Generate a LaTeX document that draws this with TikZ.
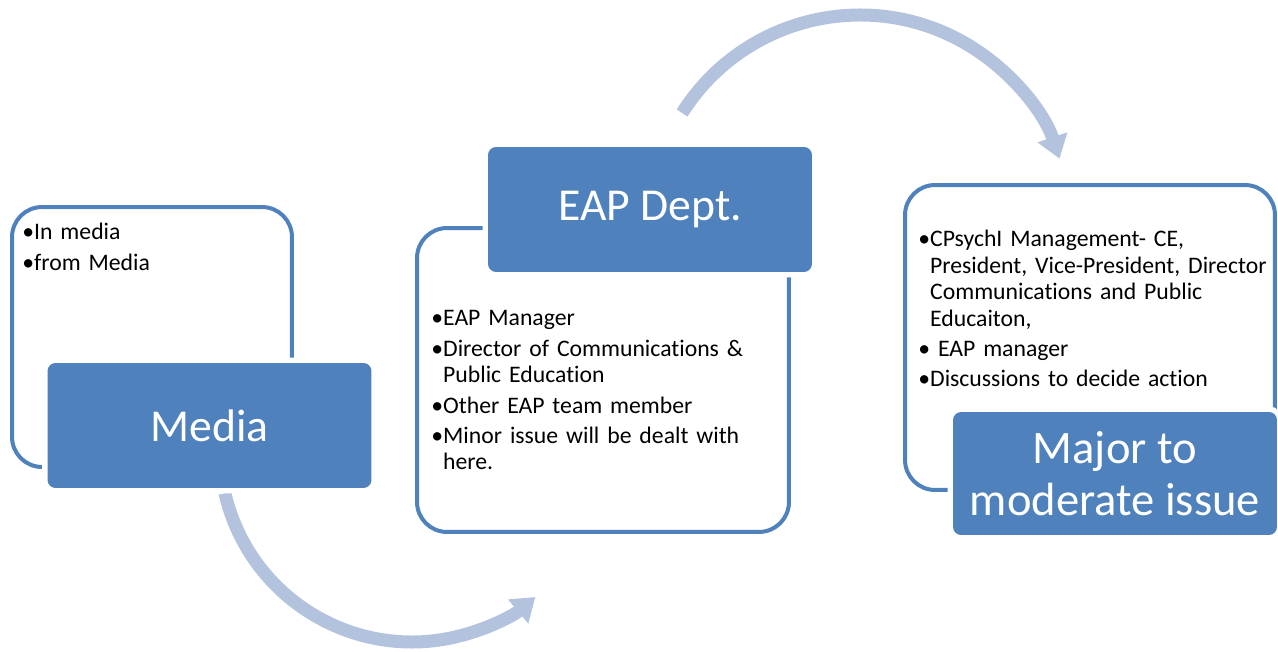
\documentclass[tikz,border=0pt]{standalone}
\usepackage{fontspec}
\setmainfont{Carlito}[Ligatures={NoCommon}]
\usepackage{tikz}
\usetikzlibrary{arrows.meta,positioning}
\definecolor{eapblue}{HTML}{4F81BD}
\definecolor{arcblue}{HTML}{B3C3DD}
\newcommand{\itemgap}{2.3pt}

\begin{document}
\begin{tikzpicture}[x=0.02cm, y=0.02cm,
  outerbox/.style={draw=eapblue, line width=0.08cm, fill=white, rounded corners=0.6cm, inner sep=0},
  headbox/.style={fill=eapblue, rounded corners=0.16cm, preaction={draw=white, line width=0.22cm},
    text=white, font=\fontsize{26}{28.5}\selectfont, minimum width=6.48cm, minimum height=2.5cm,
    inner sep=0, align=center},
  listtext/.style={anchor=base west, inner sep=0, align=left, font=\fontsize{13.5}{15}\selectfont},
  cyclearrow/.style={draw=arcblue, line width=0.26cm, -{Triangle[length=0.45cm, width=0.6cm]}}]
\useasboundingbox (0,0) rectangle (1278,652);

% arrows between the steps
\path (412,202) ++(193:192) coordinate (mediaOut);
\draw[cyclearrow] (mediaOut) arc[start angle=193, end angle=310, radius=3.84cm];
\path (860,426.5) ++(147.7:210.5) coordinate (eapOut);
\draw[cyclearrow] (eapOut) arc[start angle=147.7, end angle=18.5, radius=4.21cm];

% Media
\node[outerbox, minimum width=5.6cm, minimum height=5.2cm] (mediaBox) at (152,315) {};
\node[listtext, text width=5cm] (mediaList) at (22,412)
  {•In media\\[\itemgap]
   •from Media};
\node[headbox] (media) at (209.5,226.5) {Media};

% EAP Dept.
\node[outerbox, minimum width=7.44cm, minimum height=6.08cm] (eapBox) at (603,272) {};
\node[listtext, text width=6.8cm] (eapList) at (431,326)
  {•EAP Manager\\[\itemgap]
   •Director of Communications \&\\
   \phantom{•}Public Education\\[\itemgap]
   •Other EAP team member\\[\itemgap]
   •Minor issue will be dealt with\\
   \phantom{•}here.};
\node[headbox] (eap) at (650,442.5) {EAP Dept.};

% Major to moderate issue
\node[outerbox, minimum width=7.4cm, minimum height=6.1cm] (majorBox) at (1090,314.5) {};
\node[listtext, text width=7cm] (majorList) at (918,405)
  {•CPsychI Management- CE,\\
   \phantom{•}President, Vice-President, Director\\
   \phantom{•}Communications and Public\\
   \phantom{•}Educaiton,\\[\itemgap]
   • EAP manager\\[\itemgap]
   •Discussions to decide action};
\node[headbox, font=\fontsize{26.5}{29.5}\selectfont, minimum height=2.46cm] (major) at (1115,178.5) {Major to\\moderate issue};
\end{tikzpicture}
\end{document}
